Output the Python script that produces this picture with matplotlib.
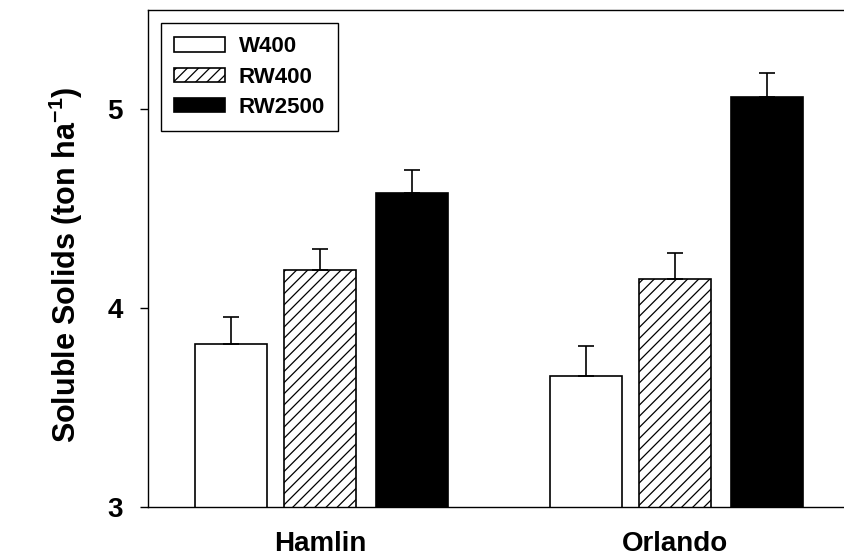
import matplotlib
matplotlib.use("Agg")
import matplotlib.pyplot as plt
import numpy as np

plt.rcParams['font.family'] = ['Liberation Sans', 'DejaVu Sans']
plt.rcParams['font.weight'] = 'bold'
plt.rcParams['mathtext.fontset'] = 'custom'
plt.rcParams['mathtext.rm'] = 'Liberation Sans:bold'
plt.rcParams['mathtext.bf'] = 'Liberation Sans:bold'
plt.rcParams['mathtext.default'] = 'bf'
plt.rcParams['hatch.linewidth'] = 0.9

categories = ["Hamlin", "Orlando"]
series = ["W400", "RW400", "RW2500"]
w400 = [3.82, 3.66]
rw400 = [4.19, 4.145]
rw2500 = [4.58, 5.06]
w400_err = [0.135, 0.15]
rw400_err = [0.11, 0.135]
rw2500_err = [0.115, 0.125]

values = [w400, rw400, rw2500]
errors = [w400_err, rw400_err, rw2500_err]
fills = ["white", "white", "black"]
hatches = [None, "///", None]
offsets = [-0.25, 0.0, 0.258]
width = 0.203

fig = plt.figure(figsize=(8.45, 5.57), dpi=100)
ax = fig.add_axes([148/845, 50/557, (845-148)/845, 497/557])

x = np.arange(len(categories))
for vals, errs, fc, h, off, name in zip(values, errors, fills, hatches, offsets, series):
    ax.bar(x + off, vals, width, color=fc, edgecolor="black", linewidth=1.2,
           hatch=h, label=name, zorder=2)
    ax.errorbar(x + off, vals, yerr=[np.zeros(len(errs)), errs], fmt="none",
                ecolor="black", elinewidth=1.2, capsize=5.5, capthick=1.2, zorder=3)

ax.set_ylim(3, 5.5)
ax.set_xlim(-0.485, 1.479)
ax.set_yticks([3, 4, 5])
ax.set_yticklabels(["3", "4", "5"])
ax.set_xticks(x)
ax.set_xticklabels(categories)
ax.tick_params(axis="y", direction="out", length=6, width=1, pad=12, labelsize=20)
ax.tick_params(axis="x", length=0, pad=17, labelsize=20)
for lab in ax.get_xticklabels() + ax.get_yticklabels():
    lab.set_fontweight("bold")
ax.spines["right"].set_visible(False)
for s in ["left", "top", "bottom"]:
    ax.spines[s].set_linewidth(1.0)

ax.set_ylabel(r"Soluble Solids (ton ha$^{-1}$)", fontsize=22, fontweight="bold")
ax.yaxis.set_label_coords(-0.09, 0.487)

leg = ax.legend(loc="upper left", bbox_to_anchor=(161/845, 1-23/557), bbox_transform=fig.transFigure,
                borderaxespad=0, fancybox=False, edgecolor="black", framealpha=1,
                prop={"weight": "bold", "size": 16}, handlelength=2.3, handleheight=0.62,
                handletextpad=0.6, labelspacing=0.42, borderpad=0.6)
leg.get_frame().set_linewidth(1.0)

fig.savefig("out.png", dpi=100)
